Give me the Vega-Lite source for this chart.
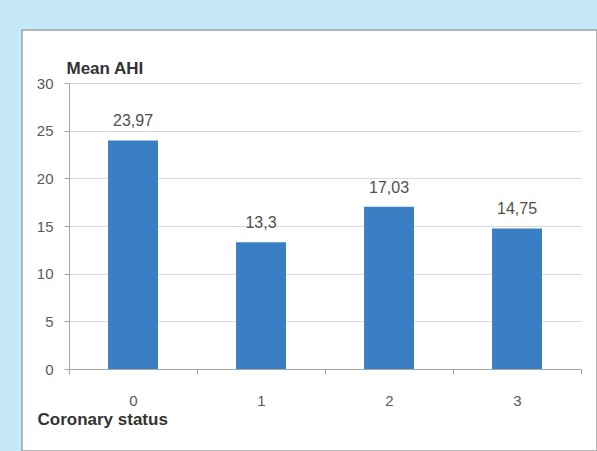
{
  "$schema": "https://vega.github.io/schema/vega-lite/v6.json",
  "width": 575,
  "height": 421,
  "autosize": "none",
  "padding": {"left": 22, "top": 30, "right": 0, "bottom": 0},
  "background": "#C6E9F9",
  "config": {
    "view": {"fill": "white", "stroke": "#A0A0A0", "strokeWidth": 1.5},
    "font": "Liberation Sans"
  },
  "data": {
    "values": [
      {"status": "0", "ahi": 23.97, "label": "23,97"},
      {"status": "1", "ahi": 13.3, "label": "13,3"},
      {"status": "2", "ahi": 17.03, "label": "17,03"},
      {"status": "3", "ahi": 14.75, "label": "14,75"}
    ]
  },
  "encoding": {
    "x": {
      "field": "status",
      "type": "nominal",
      "sort": null,
      "scale": {"range": [47, 559], "paddingInner": 0, "paddingOuter": 0},
      "axis": {
        "title": "Coronary status",
        "titleX": 15,
        "titleY": 55,
        "titleAlign": "left",
        "titleBaseline": "alphabetic",
        "titleFontSize": 17,
        "titleFontWeight": "bold",
        "titleColor": "#333333",
        "labelAngle": 0,
        "labelFontSize": 15,
        "labelColor": "#595959",
        "labelBaseline": "middle",
        "labelPadding": 26,
        "tickSize": 5,
        "tickColor": "#A6A6A6",
        "domainColor": "#A6A6A6",
        "tickBand": "extent",
        "offset": -82,
        "grid": false
      }
    },
    "y": {
      "field": "ahi",
      "type": "quantitative",
      "scale": {"domain": [0, 30], "range": [339, 53], "nice": false},
      "axis": {
        "title": "Mean AHI",
        "titleAngle": 0,
        "titleX": -3,
        "titleY": 43,
        "titleAlign": "left",
        "titleBaseline": "alphabetic",
        "titleFontSize": 17,
        "titleFontWeight": "bold",
        "titleColor": "#333333",
        "values": [0, 5, 10, 15, 20, 25, 30],
        "labelFontSize": 15,
        "labelColor": "#595959",
        "labelPadding": 11,
        "tickSize": 5,
        "tickColor": "#A6A6A6",
        "domainColor": "#A6A6A6",
        "grid": true,
        "gridColor": "#D9D9D9",
        "offset": -47
      }
    }
  },
  "layer": [
    {"mark": {"type": "bar", "color": "#3A7EC4", "width": {"band": 0.39}}},
    {
      "mark": {"type": "text", "dy": -14, "baseline": "alphabetic", "fontSize": 16, "color": "#505050"},
      "encoding": {"text": {"field": "label"}}
    }
  ]
}
